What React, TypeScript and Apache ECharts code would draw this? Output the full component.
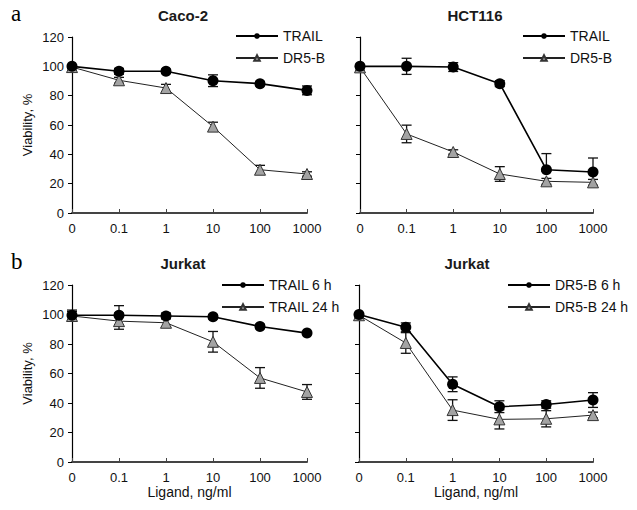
import React, { useEffect, useRef } from "react";
import * as echarts from "echarts";

const categories = ["0", "0.1", "1", "10", "100", "1000"];

const caco2Trail = [100, 96.6, 96.6, 90.2, 88.2, 83.6];
const caco2TrailErr = [1, 2, 1.5, 4, 1.5, 3];
const caco2Dr5b = [99.5, 90.5, 85.2, 58.9, 29.5, 26.6];
const caco2Dr5bErr = [1, 2, 2.5, 3, 3, 1.5];

const hctTrail = [100, 100, 99.5, 88.2, 29.5, 28];
const hctTrailErrUp = [1, 5.5, 3, 2, 11, 9.5];
const hctTrailErrDown = [1, 5.5, 3, 2, 1, 1];
const hctDr5b = [99.3, 53.9, 41.6, 26.6, 21.6, 20.9];
const hctDr5bErr = [2, 6, 1.5, 5, 2, 2];

const jurkatTrail6 = [99.5, 99.5, 99, 98.5, 91.9, 87.4];
const jurkatTrail6Err = [3.5, 6.5, 2, 1.5, 1.5, 1];
const jurkatTrail24 = [99, 95.5, 94.4, 81.5, 57, 47.5];
const jurkatTrail24Err = [3, 5.5, 3, 7, 7, 5];

const jurkatDr5b6 = [100, 91.3, 52.7, 37.5, 39, 42];
const jurkatDr5b6Err = [1, 3, 5, 4, 2.5, 5];
const jurkatDr5b24 = [99.5, 80.7, 35.2, 28.9, 29.3, 31.8];
const jurkatDr5b24Err = [1, 7, 7, 6.5, 5.5, 2];

const panelTitles = ["Caco-2", "HCT116", "Jurkat", "Jurkat"];
const yAxisName = "Viability, %";
const xAxisName = "Ligand, ng/ml";

const FONT = "Liberation Sans, Arial, sans-serif";

type S = { name: string; vals: number[]; up: number[]; down: number[]; kind: "circle" | "tri" };

const panels: { series: S[] }[] = [
  {
    series: [
      { name: "TRAIL", vals: caco2Trail, up: caco2TrailErr, down: caco2TrailErr, kind: "circle" },
      { name: "DR5-B", vals: caco2Dr5b, up: caco2Dr5bErr, down: caco2Dr5bErr, kind: "tri" },
    ],
  },
  {
    series: [
      { name: "TRAIL", vals: hctTrail, up: hctTrailErrUp, down: hctTrailErrDown, kind: "circle" },
      { name: "DR5-B", vals: hctDr5b, up: hctDr5bErr, down: hctDr5bErr, kind: "tri" },
    ],
  },
  {
    series: [
      { name: "TRAIL 6 h", vals: jurkatTrail6, up: jurkatTrail6Err, down: jurkatTrail6Err, kind: "circle" },
      { name: "TRAIL 24 h", vals: jurkatTrail24, up: jurkatTrail24Err, down: jurkatTrail24Err, kind: "tri" },
    ],
  },
  {
    series: [
      { name: "DR5-B 6 h", vals: jurkatDr5b6, up: jurkatDr5b6Err, down: jurkatDr5b6Err, kind: "circle" },
      { name: "DR5-B 24 h", vals: jurkatDr5b24, up: jurkatDr5b24Err, down: jurkatDr5b24Err, kind: "tri" },
    ],
  },
];

const gridPos = [
  { left: 72, top: 37, width: 235, height: 176 },
  { left: 360, top: 37, width: 233, height: 176 },
  { left: 72, top: 285, width: 235, height: 177 },
  { left: 359, top: 285, width: 234, height: 177 },
];
const legendPos = [
  { left: 235, top: 29 },
  { left: 522, top: 29 },
  { left: 221, top: 278 },
  { left: 507, top: 278 },
];
const titlePos = [
  { left: 178, top: 3 },
  { left: 470, top: 3 },
  { left: 178, top: 251 },
  { left: 462, top: 251 },
];

export default function App() {
  const ref = useRef<HTMLDivElement>(null);
  useEffect(() => {
    if (!ref.current) return;
    const chart = echarts.init(ref.current, undefined, { renderer: "svg" });

    const series: any[] = [];
    panels.forEach((p, pi) => {
      p.series.forEach((s) => {
        const isC = s.kind === "circle";
        series.push({
          type: "custom",
          name: s.name + "-err",
          xAxisIndex: pi,
          yAxisIndex: pi,
          z: 1,
          silent: true,
          data: s.vals.map((v, i) => [i, v - s.down[i], v + s.up[i]]),
          renderItem: (params: any, api: any) => {
            const lo = api.coord([api.value(0), api.value(1)]);
            const hi = api.coord([api.value(0), api.value(2)]);
            const w = 5;
            const st = { stroke: "#111", lineWidth: 1.3 };
            return {
              type: "group",
              children: [
                { type: "line", shape: { x1: hi[0], y1: hi[1], x2: lo[0], y2: lo[1] }, style: st },
                { type: "line", shape: { x1: hi[0] - w, y1: hi[1], x2: hi[0] + w, y2: hi[1] }, style: st },
                { type: "line", shape: { x1: lo[0] - w, y1: lo[1], x2: lo[0] + w, y2: lo[1] }, style: st },
              ],
            };
          },
        });
        series.push({
          type: "line",
          name: s.name,
          xAxisIndex: pi,
          yAxisIndex: pi,
          z: isC ? 4 : 3,
          data: s.vals,
          symbol: isC ? "circle" : "triangle",
          symbolSize: isC ? 11 : 11,
          showSymbol: true,
          lineStyle: { color: isC ? "#000" : "#222", width: isC ? 1.6 : 1 },
          itemStyle: isC
            ? { color: "#000", borderColor: "#000", borderWidth: 0 }
            : { color: "#a3a3a3", borderColor: "#333", borderWidth: 1 },
        });
      });
    });

    const option: any = {
      animation: false,
      backgroundColor: "#fff",
      textStyle: { fontFamily: FONT },
      title: [
        ...panelTitles.map((t, i) => ({
          text: t,
          left: titlePos[i].left,
          top: titlePos[i].top,
          textAlign: "center",
          textStyle: { fontFamily: FONT, fontSize: 15, fontWeight: "bold", color: "#1a1a1a" },
        })),
        {
          text: "a",
          left: 6,
          top: -3,
          textStyle: { fontFamily: "Liberation Serif, serif", fontSize: 23, fontWeight: "normal", color: "#000" },
        },
        {
          text: "b",
          left: 6,
          top: 245,
          textStyle: { fontFamily: "Liberation Serif, serif", fontSize: 23, fontWeight: "normal", color: "#000" },
        },
      ],
      legend: panels.map((p, i) => ({
        orient: "vertical",
        left: legendPos[i].left,
        top: legendPos[i].top,
        itemWidth: 42,
        itemHeight: 7,
        itemGap: 8,
        padding: 0,
        selectedMode: false,
        data: p.series.map((s) => s.name),
        textStyle: { fontFamily: FONT, fontSize: 14, color: "#111" },
      })),
      grid: gridPos.map((g) => ({ ...g })),
      xAxis: panels.map((p, i) => ({
        type: "category",
        gridIndex: i,
        data: categories,
        boundaryGap: false,
        name: i >= 2 ? xAxisName : "",
        nameLocation: "middle",
        nameGap: 17,
        nameTextStyle: { fontFamily: FONT, fontSize: 14, color: "#111" },
        axisLine: { lineStyle: { color: "#444", width: 2 } },
        axisTick: { inside: true, length: 4, lineStyle: { color: "#444", width: 1 } },
        axisLabel: { fontFamily: FONT, fontSize: 13, color: "#111", margin: 9 },
        splitLine: { show: false },
      })),
      yAxis: panels.map((p, i) => ({
        type: "value",
        gridIndex: i,
        min: 0,
        max: 120,
        interval: 20,
        name: i % 2 === 0 ? yAxisName : "",
        nameLocation: "middle",
        nameGap: 38,
        nameTextStyle: { fontFamily: FONT, fontSize: 13, color: "#111" },
        axisLine: { show: true, lineStyle: { color: "#000", width: 1.2 } },
        axisTick: { show: true, length: 4, lineStyle: { color: "#000", width: 1 } },
        axisLabel: { show: i % 2 === 0, fontFamily: FONT, fontSize: 13, color: "#111", margin: 8 },
        splitLine: { show: false },
      })),
      series,
    };
    chart.setOption(option);
    return () => chart.dispose();
  }, []);
  return (
    <div
      ref={ref}
      style={{ position: "absolute", left: 0, top: 0, width: 637, height: 510 }}
    />
  );
}
